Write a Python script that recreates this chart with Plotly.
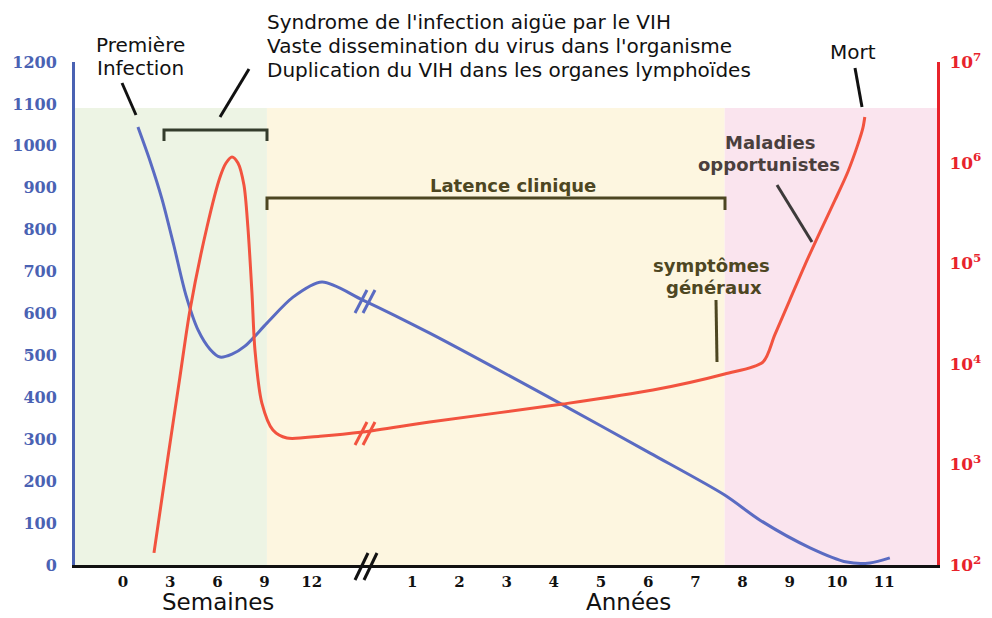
import plotly.graph_objects as go

# ---------------- data ----------------
week_ticks = [0, 3, 6, 9, 12]
year_ticks = [1, 2, 3, 4, 5, 6, 7, 8, 9, 10, 11]
week_labels = [str(w) for w in week_ticks]
year_labels = [str(y) for y in year_ticks]

# CD4 count (cells/mm3) - left axis
cd4_weeks = [0.95, 1.72, 2.48, 3.24, 4.00, 4.77, 5.53, 6.17, 6.93, 7.75, 9.15, 10.81, 12.65, 15.25]
cd4_weeks_vals = [1045, 964, 873, 761, 644, 561, 515, 496, 503, 522, 577, 639, 675, 632]
cd4_years = [1.37, 4.19, 6.04, 7.62, 8.37, 9.43, 10.21, 10.70, 11.12]
cd4_years_vals = [553, 382, 267, 167, 107, 41, 7, 5, 17]

# Viral load (copies/ml) - right log axis
viral_weeks = [1.97, 2.86, 3.62, 4.26, 5.34, 6.17, 6.55, 6.93, 7.31, 7.69, 7.94, 8.20, 8.39,
               8.83, 9.53, 10.42, 12.52, 15.25]
viral_weeks_vals = [132, 1186, 7400, 34300, 229000, 719000, 991000, 1138000, 991000, 598000,
                    229000, 50600, 13700, 4070, 2200, 1830, 1910, 2100]
viral_years = [1.37, 4.19, 6.10, 7.62, 8.43, 8.68, 9.00, 9.32, 9.64, 9.96, 10.23, 10.44, 10.55, 10.59]
viral_years_vals = [2640, 3980, 5490, 7930, 10400, 19300, 43000, 95900, 204000, 425000,
                    807000, 1500000, 2210000, 2840000]

# phase boundaries
acute_end_weeks = 9.15
latency_end_years = 7.62
phase_top = 1090

cd4_ticks = list(range(0, 1201, 100))
viral_ticks = [1e2, 1e3, 1e4, 1e5, 1e6, 1e7]
viral_tick_labels = ["10<sup>%d</sup>" % p for p in range(2, 8)]

# ---------------- composite time axis ----------------
YEAR_OFFSET = 5.13


def wpos(w):
    return w / 3.0


def ypos(y):
    return y + YEAR_OFFSET


X_RANGE = [-1.017, 17.25]

cd4_x = [wpos(w) for w in cd4_weeks] + [ypos(y) for y in cd4_years]
cd4_y = cd4_weeks_vals + cd4_years_vals
vir_x = [wpos(w) for w in viral_weeks] + [ypos(y) for y in viral_years]
vir_y = viral_weeks_vals + viral_years_vals
tick_pos = [wpos(w) for w in week_ticks] + [ypos(y) for y in year_ticks]
tick_txt = week_labels + year_labels

# ---------------- layout helpers (screen pixel -> paper) ----------------
OFF = 8                      # page body margin
W, H = 992 - OFF, 618 - OFF
PL, PR, PT, PB = 75, 937, 62, 565   # plot area in screen pixels


def PX(x):
    return (x - PL) / (PR - PL)


def PY(y):
    return (PB - y) / (PB - PT)


BLUE_AX = "#4a62b3"
BLUE_LN = "#5a6bc2"
RED_AX = "#e8232b"
RED_LN = "#f2533f"
OLIVE = "#4d4622"

fig = go.Figure()
fig.add_trace(go.Scatter(x=cd4_x, y=cd4_y, mode="lines",
                         line=dict(color=BLUE_LN, width=3, shape="spline", smoothing=0.8),
                         yaxis="y", showlegend=False, hoverinfo="skip"))
fig.add_trace(go.Scatter(x=vir_x, y=vir_y, mode="lines",
                         line=dict(color=RED_LN, width=3, shape="spline", smoothing=0.8),
                         yaxis="y2", showlegend=False, hoverinfo="skip"))

shapes = []
for x0, x1, col in [(X_RANGE[0], wpos(acute_end_weeks), "#edf4e4"),
                    (wpos(acute_end_weeks), ypos(latency_end_years), "#fdf6e0"),
                    (ypos(latency_end_years), X_RANGE[1], "#fae4ee")]:
    shapes.append(dict(type="rect", xref="x", yref="y", x0=x0, x1=x1, y0=0, y1=phase_top,
                       fillcolor=col, line=dict(width=0), layer="below"))


def seg(x0, y0, x1, y1, color, width=3):
    shapes.append(dict(type="line", xref="paper", yref="paper",
                       x0=PX(x0), y0=PY(y0), x1=PX(x1), y1=PY(y1),
                       line=dict(color=color, width=width)))


def bracket(xa, xb, y, drop, color):
    path = "M %f,%f L %f,%f L %f,%f L %f,%f" % (PX(xa), PY(y + drop), PX(xa), PY(y),
                                               PX(xb), PY(y), PX(xb), PY(y + drop))
    shapes.append(dict(type="path", xref="paper", yref="paper", path=path,
                       line=dict(color=color, width=3)))


bracket(164, 267, 130, 11, "#343c2c")
bracket(267, 725, 198, 12, OLIVE)

# pointer lines
seg(122, 83, 136, 115, "#111111")
seg(249, 69, 220, 117, "#111111")
seg(855, 68, 862, 107, "#111111")
seg(777, 185, 812, 242, "#3d3a3a")
seg(716, 300, 717, 362, OLIVE)

# break marks
seg(355, 313, 367, 290, BLUE_LN)
seg(363, 313, 375, 290, BLUE_LN)
seg(355, 445, 367, 422, RED_LN)
seg(363, 445, 375, 422, RED_LN)
seg(355, 580, 368, 553, "#111111")
seg(364, 580, 377, 553, "#111111")

annotations = []


def txt(s, x, y, size, color="#111111", bold=False, anchor="center", yanchor="middle"):
    annotations.append(dict(text=s, x=PX(x), y=PY(y), xref="paper", yref="paper",
                            xanchor=anchor, yanchor=yanchor, showarrow=False,
                            font=dict(family="DejaVu Sans", size=size, color=color,
                                      weight="bold" if bold else "normal")))


txt("Syndrome de l'infection aigüe par le VIH", 265, 22, 20, anchor="left")
txt("Vaste dissemination du virus dans l'organisme", 265, 46, 20, anchor="left")
txt("Duplication du VIH dans les organes lymphoïdes", 265, 70, 20, anchor="left")
txt("Première", 140, 45, 20)
txt("Infection", 140, 68, 20)
txt("Mort", 853, 52, 20)
txt("Latence clinique", 513, 185, 18, OLIVE, True)
txt("symptômes", 711, 265, 18, OLIVE, True)
txt("généraux", 714, 287, 18, OLIVE, True)
txt("Maladies", 770, 143, 18, "#4a3f3d", True)
txt("opportunistes", 769, 165, 18, "#4a3f3d", True)
txt("Semaines", 218, 617, 23, yanchor="bottom")
txt("Années", 628, 617, 23, yanchor="bottom")

fig.update_layout(
    width=W, height=H,
    margin=dict(l=PL - OFF, r=992 - PR, t=PT - OFF, b=618 - PB, autoexpand=False),
    paper_bgcolor="white", plot_bgcolor="white",
    shapes=shapes, annotations=annotations,
    xaxis=dict(range=X_RANGE, tickvals=tick_pos, ticktext=tick_txt, showgrid=False,
               zeroline=False, showline=True, linecolor="#111111", linewidth=3, ticks="",
               ticklabelstandoff=1,
               tickfont=dict(family="DejaVu Serif", size=15, color="#111111", weight="bold"),
               fixedrange=True),
    yaxis=dict(range=[0, 1200], tickvals=cd4_ticks, showgrid=False, zeroline=False,
               showline=True, linecolor=BLUE_AX, linewidth=3, ticks="",
               ticklabelstandoff=12,
               tickfont=dict(family="DejaVu Serif", size=16, color=BLUE_AX, weight="bold")),
    yaxis2=dict(type="log", range=[2, 7], overlaying="y", side="right",
                tickvals=viral_ticks, ticktext=viral_tick_labels, showgrid=False,
                zeroline=False, showline=True, linecolor=RED_AX, linewidth=3, ticks="",
                ticklabelstandoff=6,
                tickfont=dict(family="DejaVu Serif", size=17, color=RED_AX, weight="bold")),
)

fig.write_html("out.html")
